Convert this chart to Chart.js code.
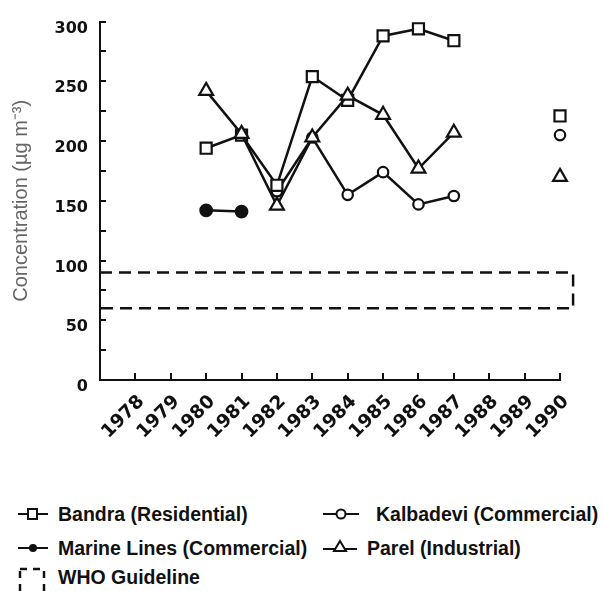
<!DOCTYPE html>
<html>
<head>
<meta charset="utf-8">
<script src="https://cdn.jsdelivr.net/npm/chart.js@4.4.1/dist/chart.umd.min.js"></script>
<style>
  html, body { margin: 0; padding: 0; background: #fff; }
  #wrap { position: relative; width: 603px; height: 591px; overflow: hidden; background: #fff; }
  #chart { position: absolute; left: 0; top: 0; }
  .lg { position: absolute; font-family: "Liberation Sans", Arial, sans-serif; font-weight: bold;
        font-size: 19.5px; line-height: 22px; color: #111; white-space: nowrap; }
  .sym { position: absolute; }
</style>
</head>
<body>
<div id="wrap">
  <canvas id="chart" width="603" height="470"></canvas>

  <svg class="sym" style="left:16px;top:504px" width="34" height="20">
    <line x1="2" y1="10" x2="32" y2="10" stroke="#111" stroke-width="2"/>
    <rect x="12" y="5" width="9" height="10" fill="#fff" stroke="#111" stroke-width="2"/>
  </svg>
  <div class="lg" style="left:58px;top:503px">Bandra (Residential)</div>

  <svg class="sym" style="left:321px;top:504px" width="40" height="20">
    <line x1="2" y1="10" x2="38" y2="10" stroke="#111" stroke-width="2"/>
    <circle cx="20" cy="10" r="4.5" fill="#fff" stroke="#111" stroke-width="2"/>
  </svg>
  <div class="lg" style="left:376px;top:503px">Kalbadevi (Commercial)</div>

  <svg class="sym" style="left:16px;top:538px" width="34" height="20">
    <line x1="2" y1="10" x2="32" y2="10" stroke="#111" stroke-width="2"/>
    <circle cx="17" cy="10" r="4" fill="#111"/>
  </svg>
  <div class="lg" style="left:58px;top:537px">Marine Lines (Commercial)</div>

  <svg class="sym" style="left:321px;top:538px" width="40" height="20">
    <line x1="2" y1="11" x2="36" y2="11" stroke="#111" stroke-width="2"/>
    <polygon points="19,3 25,13 13,13" fill="#fff" stroke="#111" stroke-width="2"/>
  </svg>
  <div class="lg" style="left:367px;top:537px">Parel (Industrial)</div>

  <svg class="sym" style="left:16px;top:566px" width="34" height="30">
    <rect x="4" y="3" width="24" height="26" fill="none" stroke="#111" stroke-width="2.5" stroke-dasharray="7,6"/>
  </svg>
  <div class="lg" style="left:58px;top:566px">WHO Guideline</div>
</div>

<script>
// Suspended particulate matter, annual means by monitoring station
const years = [1980, 1981, 1982, 1983, 1984, 1985, 1986, 1987, 1988, 1989, 1990];
const bandra = [194, 205, 163, 254, 234, 288, 294, 284, null, null, 221];
const kalbadevi = [null, null, 158, 203, 155, 174, 147, 154, null, null, 205];
const marineLines = [142, 141, null, null, null, null, null, null, null, null, null];
const parel = [242, 206, 146, 203, 238, 222, 177, 207, null, null, 170];

// WHO guideline band (lower and upper limits)
const whoLow = 60;
const whoHigh = 90;
const whoBandEnd = 1990.37;

const tickYears = [1978, 1979, 1980, 1981, 1982, 1983, 1984, 1985, 1986, 1987, 1988, 1989, 1990];
const yTickValues = [0, 25, 50, 75, 100, 125, 150, 175, 200, 225, 250, 275, 300];

const toPoints = vals => years.map((yr, i) => ({ x: yr, y: vals[i] }));

// short tick marks drawn on the inside of both axes
const inwardTicks = {
  id: 'inwardTicks',
  afterDraw(chart) {
    const { ctx, chartArea, scales } = chart;
    ctx.save();
    ctx.strokeStyle = '#111';
    ctx.lineWidth = 2;
    ctx.beginPath();
    yTickValues.forEach(v => {
      const py = Math.round(scales.y.getPixelForValue(v));
      ctx.moveTo(chartArea.left, py);
      ctx.lineTo(chartArea.left + 6, py);
    });
    tickYears.forEach(v => {
      const px = Math.round(scales.x.getPixelForValue(v));
      ctx.moveTo(px, chartArea.bottom);
      ctx.lineTo(px, chartArea.bottom - 7);
    });
    ctx.stroke();
    ctx.restore();
  }
};

const lineStyle = {
  borderColor: '#111',
  borderWidth: 2.5,
  pointBorderWidth: 2.2,
  pointBorderColor: '#111',
  tension: 0,
  spanGaps: false,
  clip: false
};

new Chart(document.getElementById('chart'), {
  type: 'line',
  data: {
    datasets: [
      Object.assign({}, lineStyle, {
        label: 'Parel (Industrial)', order: 0,
        data: toPoints(parel), pointStyle: 'triangle', pointRadius: 8,
        pointBackgroundColor: '#fff'
      }),
      Object.assign({}, lineStyle, {
        label: 'Bandra (Residential)', order: 1,
        data: toPoints(bandra), pointStyle: 'rect', pointRadius: 7.8,
        pointBackgroundColor: '#fff'
      }),
      Object.assign({}, lineStyle, {
        label: 'Kalbadevi (Commercial)', order: 2,
        data: toPoints(kalbadevi), pointStyle: 'circle', pointRadius: 5.2,
        pointBackgroundColor: '#fff'
      }),
      Object.assign({}, lineStyle, {
        label: 'Marine Lines (Commercial)', order: 3,
        data: toPoints(marineLines), pointStyle: 'circle', pointRadius: 5.8,
        pointBackgroundColor: '#111'
      }),
      {
        label: 'WHO Guideline', order: 4,
        data: [
          { x: tickYears[0] - 1, y: whoHigh },
          { x: whoBandEnd, y: whoHigh },
          { x: whoBandEnd, y: whoLow },
          { x: tickYears[0] - 1, y: whoLow }
        ],
        borderColor: '#111', borderWidth: 2.5, borderDash: [12, 7],
        pointRadius: 0, tension: 0, clip: false, fill: false
      }
    ]
  },
  options: {
    responsive: false,
    animation: false,
    events: [],
    layout: { padding: { top: 13, right: 43, left: 0, bottom: 0 } },
    plugins: { legend: { display: false }, tooltip: { enabled: false } },
    scales: {
      x: {
        type: 'linear',
        min: tickYears[0] - 1,
        max: tickYears[tickYears.length - 1],
        afterFit(scale) { scale.height = 90; },
        afterBuildTicks(scale) {
          scale.ticks = [{ value: tickYears[0] - 1 }].concat(tickYears.map(v => ({ value: v })));
        },
        grid: { display: true, drawOnChartArea: false, drawTicks: false },
        border: { display: true, color: '#111', width: 2 },
        ticks: {
          autoSkip: false,
          maxRotation: 45,
          minRotation: 45,
          padding: 11,
          labelOffset: 6,
          color: '#111',
          font: { family: 'DejaVu Sans', weight: 'bold', size: 18.5 },
          callback: v => (tickYears.includes(v) ? String(v) : '')
        }
      },
      y: {
        min: 0,
        max: 300,
        afterFit(scale) { scale.width = 100; },
        afterBuildTicks(scale) {
          scale.ticks = yTickValues.map(v => ({ value: v }));
        },
        grid: { display: true, drawOnChartArea: false, drawTicks: false },
        border: { display: true, color: '#111', width: 2 },
        title: {
          display: true,
          text: 'Concentration (µg m⁻³)',
          color: '#666',
          padding: { top: 9, bottom: 0 },
          font: { family: 'Liberation Sans', weight: 'normal', size: 20 }
        },
        ticks: {
          padding: 12,
          labelOffset: 7,
          color: '#111',
          font: { family: 'DejaVu Sans', weight: 'bold', size: 16 },
          callback: v => (v % 50 === 0 ? String(v) : '')
        }
      }
    }
  },
  plugins: [inwardTicks]
});
</script>
</body>
</html>
